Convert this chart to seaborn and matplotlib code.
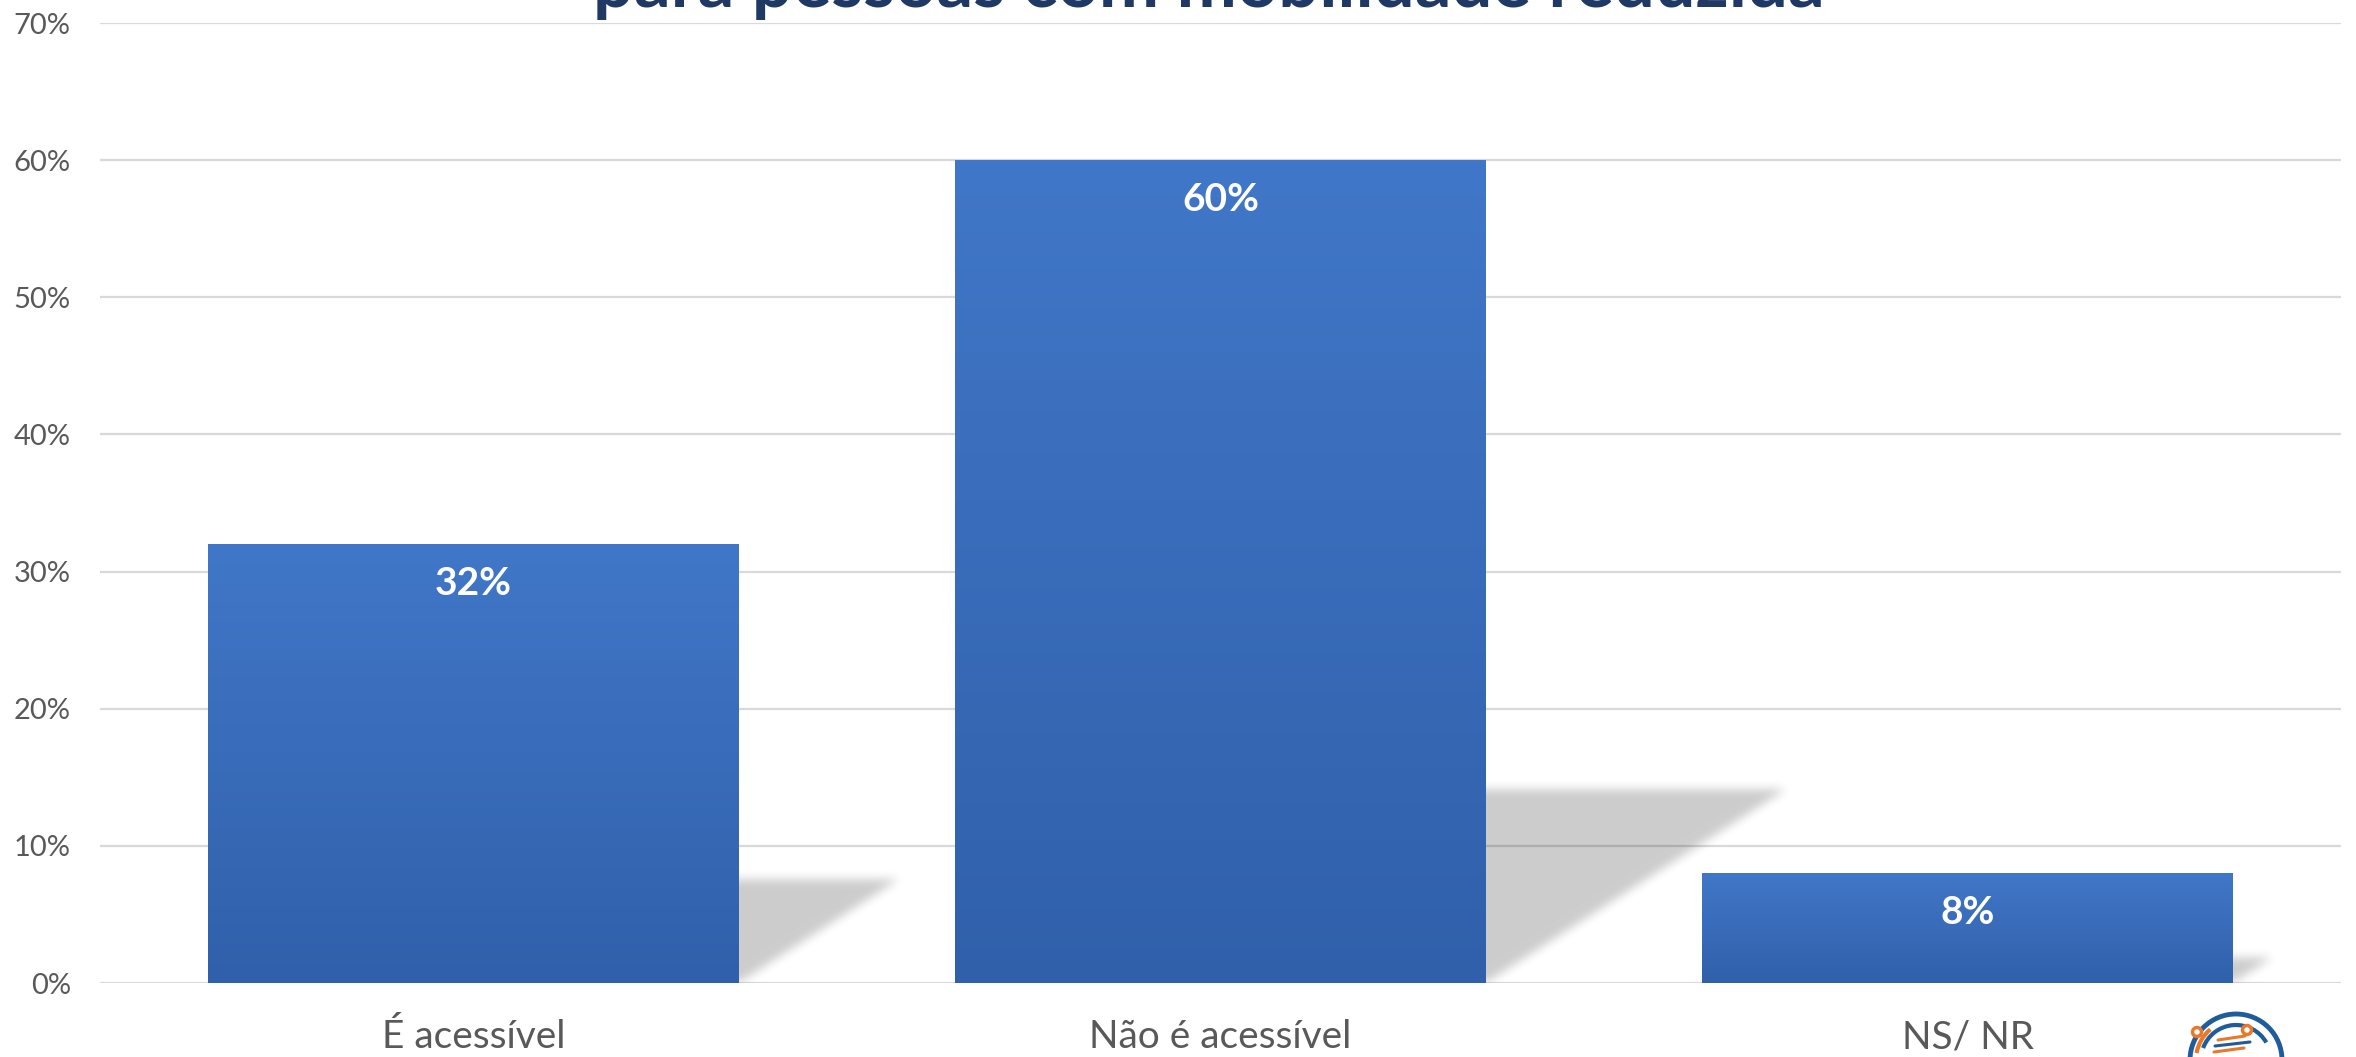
import numpy as np
import pandas as pd
import seaborn as sns
import matplotlib
matplotlib.use("Agg")
import matplotlib.pyplot as plt
from matplotlib.patches import Circle, Arc
from matplotlib.path import Path
from matplotlib.ticker import FuncFormatter

# ---- data ----
categories = ["É acessível", "Não é acessível", "NS/ NR"]
values = [0.32, 0.60, 0.08]
value_labels = ["32%", "60%", "8%"]
title_line = "para pessoas com mobilidade reduzida"
yticks = [0, 0.1, 0.2, 0.3, 0.4, 0.5, 0.6, 0.7]

sns.set_theme(style="white")
plt.rcParams['font.family'] = ['Lato', 'DejaVu Sans']

W, H = 2356, 1057
fig = plt.figure(figsize=(W / 100, H / 100), dpi=100)
ax_left, ax_right = 100 / W, 2341 / W
ax_bottom, ax_top = 1 - 983 / H, 1 - 23 / H
ax = fig.add_axes([ax_left, ax_bottom, ax_right - ax_left, ax_top - ax_bottom])

df = pd.DataFrame({"cat": categories, "val": values})
sns.barplot(data=df, x="cat", y="val", color="#3F72C4", width=0.71,
            saturation=1, ax=ax, zorder=3)

ax.set_xlim(-0.5, len(categories) - 0.5)
ax.set_ylim(0, 0.70)
ax.set_yticks(yticks)
ax.yaxis.set_major_formatter(FuncFormatter(lambda v, p: f"{v*100:.0f}%"))
ax.grid(axis="y", color="#D9D9D9", linewidth=1.6, zorder=0)
ax.set_axisbelow(True)
for s in ax.spines.values():
    s.set_visible(False)
ax.set_xlabel("")
ax.set_ylabel("")
ax.tick_params(axis="y", labelsize=21, labelcolor="#595959", pad=21, length=0)
ax.tick_params(axis="x", labelsize=28, labelcolor="#595959", pad=26, length=0)

# pixel scales
ax_h_px = (ax_top - ax_bottom) * H
ax_w_px = (ax_right - ax_left) * W
px_per_y = ax_h_px / 0.70
px_per_x = ax_w_px / len(categories)

# gradient fill
grad = np.linspace(0, 1, 256).reshape(-1, 1)
top_col = np.array([65, 119, 200]) / 255
bot_col = np.array([48, 96, 170]) / 255
img = (bot_col[None, None, :] * (1 - grad[..., None]) + top_col[None, None, :] * grad[..., None])
img = img[::-1]


def box_blur(a, r, axis):
    k = np.ones(2 * r + 1) / (2 * r + 1)
    return np.apply_along_axis(lambda m: np.convolve(m, k, mode="same"), axis, a)


for patch, v, lab in zip(ax.patches, values, value_labels):
    x0 = patch.get_x()
    w = patch.get_width()
    h = patch.get_height()
    x1 = x0 + w
    patch.set_edgecolor("none")
    im = ax.imshow(img, extent=[x0, x1, 0, h], aspect="auto", zorder=3.5,
                   interpolation="bilinear")
    im.set_clip_path(patch)

    # blurred shadow: skewed, flattened copy of the bar
    hs = 0.235 * h
    dx = 1.55 * hs * px_per_y / px_per_x
    shadow = Path([(x0, 0), (x1, 0), (x1 + dx, hs), (x0 + dx, hs), (x0, 0)])
    margin_px = 20
    mx = margin_px / px_per_x
    my = margin_px / px_per_y
    ex0, ex1 = x1 - 10 / px_per_x, x1 + dx + mx
    ey0, ey1 = 0, hs + my
    nx = int((ex1 - ex0) * px_per_x)
    ny = int((ey1 - ey0) * px_per_y)
    gx = np.linspace(ex0, ex1, nx)
    gy = np.linspace(ey1, ey0, ny)
    XX, YY = np.meshgrid(gx, gy)
    mask = shadow.contains_points(np.c_[XX.ravel(), YY.ravel()]).reshape(ny, nx).astype(float)
    for _ in range(2):
        mask = box_blur(mask, 5, 0)
        mask = box_blur(mask, 5, 1)
    rgba = np.zeros((ny, nx, 4))
    rgba[..., 3] = 0.20 * mask
    ax.imshow(rgba, extent=[ex0, ex1, ey0, ey1], aspect="auto", zorder=2,
              interpolation="bilinear")

    # value label
    ax.annotate(lab, xy=(x0 + w / 2, h), xytext=(0, -28), textcoords="offset points",
                ha="center", va="center", color="white", fontsize=28,
                fontweight="bold", zorder=5)

ax.set_xlim(-0.5, len(categories) - 0.5)
ax.set_ylim(0, 0.70)

# title (only the lower line is visible in the canvas)
fig.text(0.513, 1 - 7 / H, title_line, ha="center", va="baseline",
         fontsize=52, fontweight="bold", color="#1F3864")

# small logo at bottom-right
lax = fig.add_axes([2180 / W, 0, 110 / W, 50 / H])
lax.set_xlim(2180, 2290)
lax.set_ylim(1057, 1007)
lax.axis("off")
cx, cy = 2236, 1060
lax.add_patch(Arc((cx, cy), 92, 92, theta1=180, theta2=360, color="#1F5C99", lw=3.5))
lax.add_patch(Arc((cx, cy), 70, 70, theta1=200, theta2=330, color="#1F5C99", lw=3))
lax.add_patch(Arc((cx, cy), 80, 80, theta1=190, theta2=230, color="#E8792B", lw=3))
lax.add_patch(Circle((2197, 1032), 4.5, facecolor="white", edgecolor="#E8792B", lw=2.5))
lax.add_patch(Circle((2247, 1030), 4.5, facecolor="white", edgecolor="#E8792B", lw=2.5))
for yy, x0l, x1l, c in [(1040, 2218, 2245, "#E8792B"), (1046, 2215, 2250, "#1F5C99"),
                        (1052, 2214, 2244, "#E8792B")]:
    lax.plot([x0l, x1l], [yy, yy - 4], color=c, lw=2.2)

fig.savefig("out.png", dpi=100, facecolor="white")
